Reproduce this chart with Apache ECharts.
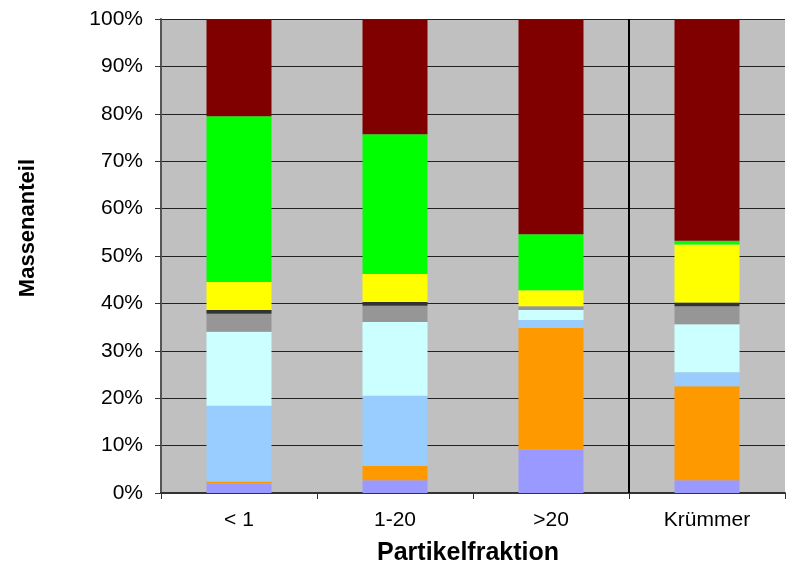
<!DOCTYPE html>
<html>
<head>
<meta charset="utf-8">
<script src="https://cdn.jsdelivr.net/npm/echarts@6/dist/echarts.min.js"></script>
<style>html,body{margin:0;padding:0;background:#fff}#c{width:787px;height:573px}</style>
</head>
<body>
<div id="c"></div>
<script>
const categories = ['< 1', '1-20', '>20', 'Krümmer'];
const yTicks = [0, 10, 20, 30, 40, 50, 60, 70, 80, 90, 100];
const separatorPos = [3];
const s1 = [2.0, 2.7, 9.1, 2.7];
const s2 = [0.4, 3.0, 25.7, 19.8];
const s3 = [16.0, 14.8, 1.7, 3.0];
const s4 = [15.6, 15.6, 2.1, 10.1];
const s5 = [3.8, 3.4, 0.8, 3.8];
const s6 = [0.8, 0.8, 0.0, 0.8];
const s7 = [5.9, 5.9, 3.4, 12.2];
const s8 = [35.0, 29.5, 11.8, 0.8];
const s9 = [20.5, 24.3, 45.4, 46.8];

const seriesData = [s1, s2, s3, s4, s5, s6, s7, s8, s9];
const colors = ['#9999FF', '#FF9900', '#99CCFF', '#CCFFFF', '#969696', '#333333', '#FFFF00', '#00FF00', '#800000'];

const chart = echarts.init(document.getElementById('c'));
const series = seriesData.map(function (d, i) {
  return {
    type: 'bar', stack: 'total', name: 'S' + (i + 1), data: d,
    barWidth: 65, itemStyle: { color: colors[i] }
  };
});
series.push({
  type: 'line', xAxisIndex: 1, yAxisIndex: 0, data: [], silent: true,
  markLine: {
    silent: true, symbol: 'none', label: { show: false },
    lineStyle: { color: '#000', width: 2, type: 'solid' },
    data: separatorPos.map(function (p) { return { xAxis: p }; })
  }
});
chart.setOption({
  animation: false,
  textStyle: { fontFamily: 'Liberation Sans, Arial, sans-serif' },
  grid: { left: 161, right: 2, top: 19, bottom: 80, show: true, backgroundColor: '#C0C0C0', borderColor: '#808080', borderWidth: 0 },
  xAxis: [{
    type: 'category',
    data: categories,
    boundaryGap: true,
    axisLine: { lineStyle: { color: '#333', width: 2 } },
    axisTick: { show: true, length: 6, lineStyle: { color: '#333', width: 1 } },
    axisLabel: { color: '#000', fontSize: 21, margin: 17 },
    splitLine: { show: false },
    name: 'Partikelfraktion',
    nameLocation: 'middle',
    nameGap: 48,
    nameTextStyle: { fontSize: 25, fontWeight: 'bold', color: '#000', padding: [0, 10, 0, 0] }
  }, {
    type: 'value', min: 0, max: 4, show: false, position: 'bottom'
  }],
  yAxis: {
    type: 'value',
    min: 0, max: 100, interval: 10,
    axisLine: { show: true, lineStyle: { color: '#555', width: 2 } },
    axisTick: { show: true, length: 6, lineStyle: { color: '#333' } },
    axisLabel: { color: '#000', fontSize: 21, margin: 18, formatter: function (v) { return yTicks.indexOf(v) >= 0 ? v + '%' : ''; } },
    splitLine: { show: true, lineStyle: { color: '#222', width: 1 } }
  },
  graphic: [{
    type: 'text',
    left: 17, top: 159,
    rotation: Math.PI / 2,
    style: { text: 'Massenanteil', font: 'bold 22px Liberation Sans, Arial, sans-serif', fill: '#000' }
  }],
  series: series
});
</script>
</body>
</html>
